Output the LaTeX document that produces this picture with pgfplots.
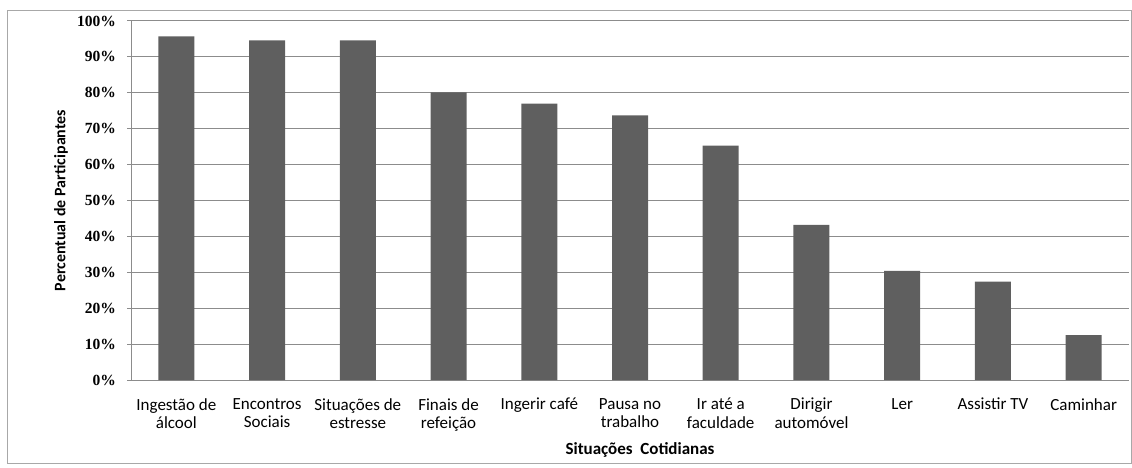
\documentclass[border=0pt]{standalone}
\usepackage{fontspec}
\setmainfont{Carlito}
\newfontfamily\tickfont{Liberation Serif}
\usepackage{pgfplots}
\pgfplotsset{compat=1.18}

\definecolor{barfill}{HTML}{5F5F5F}
\definecolor{gridc}{HTML}{8C8C8C}
\definecolor{framec}{HTML}{A8A8A8}

\begin{document}
\begin{tikzpicture}
\useasboundingbox (0pt,0pt) rectangle (1132pt,-468pt);
\draw[framec, line width=1pt] (7.5pt,-11pt) rectangle (1131pt,-463pt);
\begin{axis}[
    at={(131pt,-380pt)}, anchor=south west,
    scale only axis,
    width=998pt, height=359pt,
    xmin=-0.5, xmax=10.5,
    ymin=0, ymax=100,
    axis x line*=bottom, axis y line*=left,
    axis line style={gridc, line width=1pt, -},
    xtick=data,
    xticklabels={Ingestão de\\álcool, Encontros\\Sociais, Situações de\\estresse,
        Finais de\\refeição, Ingerir café, Pausa no\\trabalho, Ir até a\\faculdade,
        Dirigir\\automóvel, Ler, Assistir TV, Caminhar},
    x tick style={draw=none},
    xticklabel style={font=\fontsize{17}{18.5}\selectfont, align=center,
        anchor=north, inner sep=0pt, yshift=-14pt},
    ytick={0,10,...,100},
    yticklabels={0\%,10\%,20\%,30\%,40\%,50\%,60\%,70\%,80\%,90\%,100\%},
    y tick style={gridc, line width=1pt},
    tick align=outside, major tick length=4pt,
    yticklabel style={font=\tickfont\bfseries\fontsize{15.5}{16}\selectfont,
        anchor=east, inner sep=0pt, xshift=-11pt},
    ymajorgrids=true,
    grid style={gridc, line width=1pt},
    ylabel={Percentual de Participantes},
    ylabel style={font=\bfseries\fontsize{16}{18}\selectfont,
        at={(axis description cs:-0.0701,0.5)}, anchor=center},
    xlabel={Situações\ \ Cotidianas},
    xlabel style={font=\bfseries\fontsize{17}{18}\selectfont,
        at={(axis description cs:0.51,-0.195)}, anchor=center},
    clip=false,
]
\addplot[ybar, bar width=36pt, fill=barfill, draw=none]
    coordinates {
    (0,95.7)(1,94.6)(2,94.6)(3,80.1)(4,77.0)(5,73.7)
    (6,65.3)(7,43.2)(8,30.4)(9,27.4)(10,12.5)
    };
\end{axis}
\end{tikzpicture}
\end{document}
